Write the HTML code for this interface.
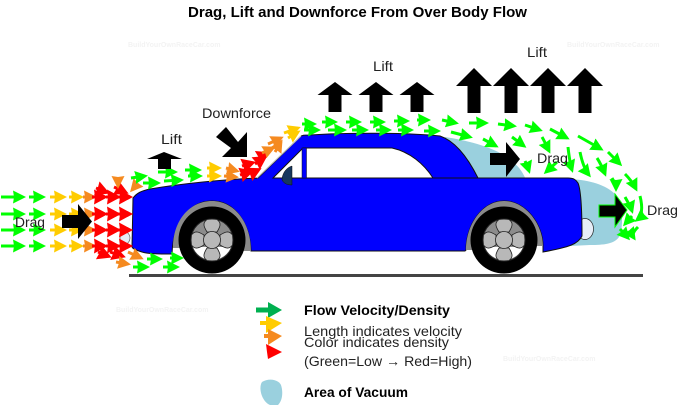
<!DOCTYPE html>
<html><head><meta charset="utf-8"><style>
html,body{margin:0;padding:0;background:#fff}
svg{display:block}
text{font-family:"Liberation Sans",sans-serif;font-size:14px;fill:#222}
.b{font-weight:bold;fill:#000}
.w{font-size:7px;fill:#f3f3f3;font-weight:bold}
.s path{fill:none;stroke-width:3}
</style></head><body>
<svg width="678" height="405" viewBox="0 0 678 405" xmlns="http://www.w3.org/2000/svg">
<defs>
<marker id="mg" markerUnits="userSpaceOnUse" markerWidth="16" markerHeight="16" refX="10" refY="7" orient="auto"><path d="M0 0.500L13 7L0 13.500L1 7Z" fill="#0f0"/></marker>
<marker id="my" markerUnits="userSpaceOnUse" markerWidth="16" markerHeight="16" refX="10" refY="7" orient="auto"><path d="M0 0.500L13 7L0 13.500L1 7Z" fill="#fc0"/></marker>
<marker id="mo" markerUnits="userSpaceOnUse" markerWidth="16" markerHeight="16" refX="10" refY="7" orient="auto"><path d="M0 0.500L13 7L0 13.500L1 7Z" fill="#f58a20"/></marker>
<marker id="mr" markerUnits="userSpaceOnUse" markerWidth="17" markerHeight="17" refX="10" refY="8" orient="auto"><path d="M0 0.500L14 8L0 15.500L1 8Z" fill="#f00"/></marker>
<g id="row" class="s">
<path d="M1 0H23" stroke="#0f0" marker-end="url(#mg)"/>
<path d="M29 0H43" stroke="#0f0" marker-end="url(#mg)"/>
<path d="M50 0H64" stroke="#fc0" marker-end="url(#my)"/>
<path d="M69 0H81" stroke="#fc0" marker-end="url(#my)"/>
<path d="M83 0H94" stroke="#f58a20" marker-end="url(#mo)"/>
<path d="M92 0H104" stroke="#f00" marker-end="url(#mr)"/>
<path d="M106 0H117" stroke="#f00" marker-end="url(#mr)"/>
<path d="M118 0H129" stroke="#f00" marker-end="url(#mr)"/>
</g>
<g id="wheel">
<circle r="33.5" fill="#000"/>
<circle r="21" fill="#8c8c8c" stroke="#222" stroke-width="1"/>
<path d="M-19 7A20.400 20.400 0 0 0 19 7Z" fill="#fff"/>
<g fill="#b8b8b8" stroke="#222" stroke-width=".8">
<path d="M-5 -8C-8 -13 -10 -17 -5 -20.500C-2 -21 2 -21 5 -20.500C10 -17 8 -13 5 -8Z"/>
<path d="M-5 8C-8 13 -10 17 -5 20.500C-2 21 2 21 5 20.500C10 17 8 13 5 8Z"/>
<path d="M8 -5C13 -8 17 -10 20.500 -5C21 -2 21 2 20.500 5C17 10 13 8 8 5Z"/>
<path d="M-8 -5C-13 -8 -17 -10 -20.500 -5C-21 -2 -21 2 -20.500 5C-17 10 -13 8 -8 5Z"/>
<circle r="8.500"/>
</g>
</g>
<path id="bigup" d="M0 0L18 18H6.500V45H-6.500V18H-18Z" fill="#000"/>
<path id="midup" d="M0 0L17.500 13H6.500V30H-6.500V13H-17.500Z" fill="#000"/>
</defs>

<text class="w" x="128" y="47">BuildYourOwnRaceCar.com</text>
<text class="w" x="567" y="47">BuildYourOwnRaceCar.com</text>
<text class="w" x="116" y="312">BuildYourOwnRaceCar.com</text>
<text class="w" x="503" y="361">BuildYourOwnRaceCar.com</text>

<text class="b" x="188" y="17" style="font-size:15px" textLength="339" lengthAdjust="spacingAndGlyphs">Drag, Lift and Downforce From Over Body Flow</text>

<!-- vacuum areas -->
<path d="M445 137C465 140 490 146 505 156C517 164 522 170 526 180H445Z" fill="#9ad0de"/>
<path d="M570 179C590 180 606 185 615 194C623 204 624 228 619 237C614 244 604 245 590 245L570 246Z" fill="#9ad0de"/>
<ellipse cx="585" cy="229" rx="8.500" ry="10.500" fill="#e6edf7" stroke="#222" stroke-width=".7"/>
<ellipse cx="125" cy="238" rx="5" ry="6" fill="#e6edf7" stroke="#555" stroke-width=".6"/>

<!-- ground -->
<rect x="129" y="274" width="514" height="3" fill="#444"/>

<!-- car body -->
<path d="M133 198C137 193 141 191 150 189C180 184 215 180 258 178L300 137C302 135 304 135 310 135C340 133 400 132 440 136C455 141 468 158 478 178H568C574 178 576 180 578 183C581 190 582 215 582 236C578 244 570 247 543 252V246C543 225 526 201 504 201C482 201 466 225 466 250L465 251H251C250 222 234 201 212 201C190 201 173 222 172 254C160 254 148 254 142 252C136 250 133 249 132 247Z" fill="#0000ff" stroke="#111" stroke-width="1"/>
<path d="M257 178L301 136" stroke="#bbb" stroke-width="1.200" fill="none"/>
<!-- window -->
<path d="M273 178L303 148H392C410 152 424 164 433 178Z" fill="#fff" stroke="#111" stroke-width="1"/>
<rect x="302" y="148" width="4.500" height="30" fill="#0000ff" stroke="#111" stroke-width=".5"/>
<path d="M433 178H478" stroke="#111" stroke-width="1"/>
<path d="M292 166C285 168 282 175 282 180C284 184 288 185 292 185Z" fill="#17375e" stroke="#111" stroke-width=".5"/>

<!-- wheels -->
<path d="M173 248C173 220 190 201 212 201C234 201 251 222 251 251H243C243 230 230 210 212 210C194 210 180 230 180 248Z" fill="#8a8a8a"/>
<path d="M466 250C466 225 482 201 504 201C526 201 543 225 543 246H536C535 228 522 208 504 208C486 208 473 228 473 250Z" fill="#8a8a8a"/>
<use href="#wheel" x="212" y="240"/>
<use href="#wheel" x="504" y="240"/>

<!-- flow rows -->
<use href="#row" y="197"/><use href="#row" y="214"/><use href="#row" y="230"/><use href="#row" y="246"/>
<g class="s">
<g stroke="#f00">
<path d="M96 188L106 192" marker-end="url(#mr)"/><path d="M114 187L125 192" marker-end="url(#mr)"/>
<path d="M98 252L108 256" marker-end="url(#mr)"/><path d="M110 252L122 256" marker-end="url(#mr)"/>
<path d="M242 166L252 163" marker-end="url(#mr)"/><path d="M240 175L250 172" marker-end="url(#mr)"/>
<path d="M250 174L258 170" marker-end="url(#mr)"/><path d="M255 164L264 158" marker-end="url(#mr)"/>
<path d="M260 157L267 154" marker-end="url(#mr)"/>
</g>
<g stroke="#f58a20">
<path d="M118 178L118 186" marker-end="url(#mo)"/><path d="M138 183L132 190" marker-end="url(#mo)"/>
<path d="M128 252L141 258" marker-end="url(#mo)"/><path d="M116 262L128 264" marker-end="url(#mo)"/>
<path d="M226 168L237 171" marker-end="url(#mo)"/><path d="M224 176L236 177" marker-end="url(#mo)"/>
<path d="M262 153L273 148" marker-end="url(#mo)"/><path d="M268 144L281 138" marker-end="url(#mo)"/>
<path d="M275 152L281 142" marker-end="url(#mo)"/>
</g>
<g stroke="#fc0">
<path d="M207 168H219" marker-end="url(#my)"/><path d="M207 176H219" marker-end="url(#my)"/>
<path d="M284 133L298 128" marker-end="url(#my)"/><path d="M288 138L298 132" marker-end="url(#my)"/>
</g>
<g stroke="#0f0">
<path d="M131 178L145 176" marker-end="url(#mg)"/><path d="M143 183L158 183" marker-end="url(#mg)"/>
<path d="M158 172L175 172" marker-end="url(#mg)"/><path d="M164 181L181 180" marker-end="url(#mg)"/>
<path d="M185 170L199 170" marker-end="url(#mg)"/><path d="M188 176L200 176" marker-end="url(#mg)"/>
<path d="M133 267H147" marker-end="url(#mg)"/><path d="M147 259H160" marker-end="url(#mg)"/>
<path d="M163 267H177" marker-end="url(#mg)"/><path d="M170 258H181" marker-end="url(#mg)"/>
<path d="M302 124H314" marker-end="url(#mg)"/><path d="M304 130H318" marker-end="url(#mg)"/>
<path d="M322 122H335" marker-end="url(#mg)"/><path d="M328 130H344" marker-end="url(#mg)"/>
<path d="M346 122H359" marker-end="url(#mg)"/><path d="M352 130H366" marker-end="url(#mg)"/>
<path d="M370 122H383" marker-end="url(#mg)"/><path d="M376 130H389" marker-end="url(#mg)"/>
<path d="M394 121H407" marker-end="url(#mg)"/><path d="M398 130H411" marker-end="url(#mg)"/>
<path d="M417 120H428" marker-end="url(#mg)"/><path d="M424 131H438" marker-end="url(#mg)"/>
<path d="M442 120L456 123" marker-end="url(#mg)"/><path d="M451 132L470 137" marker-end="url(#mg)"/>
<path d="M469 123L486 123" marker-end="url(#mg)"/><path d="M483 139L496 146" marker-end="url(#mg)"/>
<path d="M498 124L514 126" marker-end="url(#mg)"/><path d="M512 137L524 146" marker-end="url(#mg)"/>
<path d="M525 125L540 130" marker-end="url(#mg)"/><path d="M542 137C545 142 547 147 549 151" marker-end="url(#mg)"/>
<path d="M550 129L567 138" marker-end="url(#mg)"/>
<path d="M568 147C569 156 570 164 572 170" marker-end="url(#mg)"/>
<path d="M578 136L601 149" marker-end="url(#mg)"/>
<path d="M580 152C582 162 585 170 589 175" marker-end="url(#mg)"/>
<path d="M608 152L620 164" marker-end="url(#mg)"/>
<path d="M597 158C601 164 603 169 605 174" marker-end="url(#mg)"/>
<path d="M525 161C527 165 528 168 529 171" marker-end="url(#mg)"/>
<path d="M557 162L546 172" marker-end="url(#mg)"/>
<path d="M625 174C631 180 634 185 636 189" marker-end="url(#mg)"/>
<path d="M612 178C615 183 616 186 616 189" marker-end="url(#mg)"/>
<path d="M640 196C643 208 642 216 637 220" marker-end="url(#mg)"/>
<path d="M625 197C629 204 631 208 632 211" marker-end="url(#mg)"/>
<path d="M632 216L625 224" marker-end="url(#mg)"/>
<path d="M620 229L628 238" marker-end="url(#mg)"/>
<path d="M638 227C633 232 632 235 634 238" marker-end="url(#mg)"/>
</g>
</g>

<!-- black arrows -->
<path d="M62 215H78V204L92 221.500L78 239V228H62Z" fill="#000"/>
<path d="M490 153H506V142L520 159L506 177V165H490Z" fill="#000"/>
<path d="M599 205H615V194L627 210L615 227V217H599Z" fill="#000" stroke="#0f0" stroke-width="1"/>
<path d="M164 152L182 159H171V169H158V159H147Z" fill="#000"/>
<path d="M216 137L226 127L238 142L247 132V157H222L231 148Z" fill="#000"/>
<use href="#midup" x="335" y="82"/><use href="#midup" x="376" y="82"/><use href="#midup" x="417" y="82"/>
<use href="#bigup" x="474" y="68"/><use href="#bigup" x="511" y="68"/><use href="#bigup" x="548" y="68"/><use href="#bigup" x="585" y="68"/>

<!-- labels -->
<text x="15" y="227" textLength="30" lengthAdjust="spacingAndGlyphs">Drag</text>
<text x="161" y="144" textLength="21" lengthAdjust="spacingAndGlyphs">Lift</text>
<text x="202" y="118" textLength="69" lengthAdjust="spacingAndGlyphs">Downforce</text>
<text x="373" y="71" textLength="20" lengthAdjust="spacingAndGlyphs">Lift</text>
<text x="527" y="57" textLength="20" lengthAdjust="spacingAndGlyphs">Lift</text>
<text x="537" y="163" textLength="31" lengthAdjust="spacingAndGlyphs">Drag</text>
<text x="647" y="215" textLength="31" lengthAdjust="spacingAndGlyphs">Drag</text>

<!-- legend -->
<path d="M256 310H271" stroke="#00b050" stroke-width="5"/>
<path d="M268 302L282 310L268 318Z" fill="#00b050"/>
<path d="M260 323H270" stroke="#fc0" stroke-width="4"/>
<path d="M266 316L282 323L266 333Z" fill="#fc0"/>
<path d="M264 336H270" stroke="#f58a20" stroke-width="4"/>
<path d="M268 329L282 336L268 345Z" fill="#f58a20"/>
<path d="M266 344L282 352L268 359L267 352Z" fill="#f00"/>
<text class="b" x="304" y="315" style="font-size:13.5px" textLength="146" lengthAdjust="spacingAndGlyphs">Flow Velocity/Density</text>
<text x="304" y="336" textLength="158" lengthAdjust="spacingAndGlyphs">Length indicates velocity</text>
<text x="304" y="347" textLength="145" lengthAdjust="spacingAndGlyphs">Color indicates density</text>
<text x="304" y="366" textLength="168" lengthAdjust="spacingAndGlyphs">(Green=Low → Red=High)</text>
<text class="b" x="304" y="397" style="font-size:13.5px" textLength="104" lengthAdjust="spacingAndGlyphs">Area of Vacuum</text>
<path d="M262 382C268 378 278 379 281 385C283 391 283 400 278 405L270 405C262 402 258 388 262 382Z" fill="#9ad0de"/>
</svg>
</body></html>
